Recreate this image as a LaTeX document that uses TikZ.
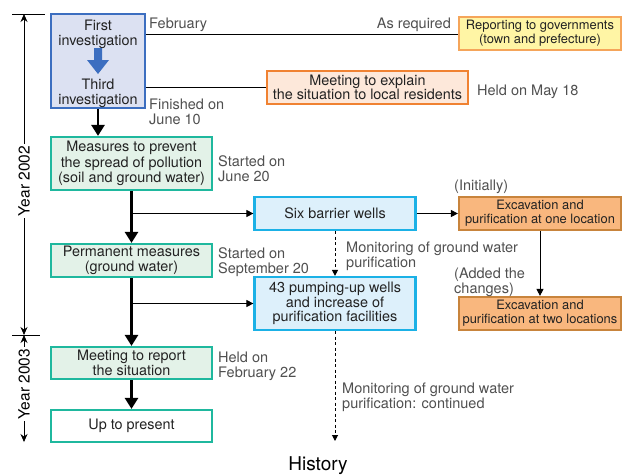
\documentclass[tikz,border=0pt]{standalone}
\usepackage{fontspec}
\setmainfont{TeX Gyre Heros}
\usetikzlibrary{arrows.meta}
\definecolor{bluefill}{HTML}{DCE1F2}
\definecolor{bluedraw}{HTML}{3C6EC0}
\definecolor{yelfill}{HTML}{FFF5A5}
\definecolor{yeldraw}{HTML}{F5A55A}
\definecolor{peachfill}{HTML}{FDE8DA}
\definecolor{peachdraw}{HTML}{F08232}
\definecolor{grnfill}{HTML}{E3F2E8}
\definecolor{grndraw}{HTML}{1FB89E}
\definecolor{cyanfill}{HTML}{DDF0FB}
\definecolor{cyandraw}{HTML}{1BB1E6}
\definecolor{orgfill}{HTML}{F9B77E}
\definecolor{orgdraw}{HTML}{C8843C}
\definecolor{anno}{HTML}{505050}
\definecolor{boxtxt}{HTML}{222222}
\tikzset{
  box/.style={rectangle, line width=2.2pt, inner sep=0pt, align=center, text=boxtxt,
    font=\fontsize{14.4}{14.5}\selectfont},
  smallbox/.style={box, font=\fontsize{12.9}{14}\selectfont},
  note/.style={inner sep=0pt, align=left, text=anno, anchor=north west,
    font=\fontsize{14.5}{15}\selectfont},
  mainarrow/.style={line width=2.6pt, -{Triangle[width=13pt,length=11pt]}},
  thinarrow/.style={line width=0.9pt, -{Triangle[width=7pt,length=7pt]}},
  dasharrow/.style={line width=1pt, dashed, dash pattern=on 3pt off 2.5pt, -{Triangle[width=6pt,length=6pt]}},
  thinline/.style={line width=0.8pt},
  yeararrow/.style={line width=0.8pt, -{Stealth[width=7pt,length=8pt]}},
  yearlbl/.style={rotate=90, fill=white, inner sep=2pt, text=black, font=\fontsize{15.5}{17}\selectfont},
}
\begin{document}
\begin{tikzpicture}[x=1pt,y=-1pt]
\useasboundingbox (0,0) rectangle (622,475);
\fill[white] (0,0) rectangle (622,475);

% Boxes
\node[box, fill=bluefill, draw=bluedraw, minimum width=94pt, minimum height=94pt] (inv) at (98,61) {};
\node[box, anchor=north, font=\fontsize{14.4}{15}\selectfont] (first) at (98,19) {First\\investigation};
\node[box, anchor=north, font=\fontsize{14.4}{15}\selectfont] (third) at (98,77.5) {Third\\investigation};
\fill[bluedraw] (94,48) -- (102,48) -- (102,60) -- (109,60) -- (98,74) -- (87,60) -- (94,60) -- cycle;

\node[smallbox, fill=yelfill, draw=yeldraw, minimum width=162pt, minimum height=33pt] (rep) at (540,33.5) {Reporting to governments\\(town and prefecture)};
\node[box, fill=peachfill, draw=peachdraw, minimum width=201pt, minimum height=33pt, font=\fontsize{14.4}{13.8}\selectfont] (meet) at (367.5,87.5) {Meeting to explain\\the situation to local residents};

\node[box, fill=grnfill, draw=grndraw, minimum width=161pt, minimum height=53pt, font=\fontsize{14.4}{15.5}\selectfont] (meas) at (131.5,163.5) {Measures to prevent\\the spread of pollution\\(soil and ground water)};
\node[box, fill=grnfill, draw=grndraw, minimum width=161pt, minimum height=33pt] (perm) at (131.5,260.5) {Permanent measures\\(ground water)};
\node[box, fill=grnfill, draw=grndraw, minimum width=161pt, minimum height=32pt] (rpt) at (131.5,363) {Meeting to report\\the situation};
\node[box, fill=white, draw=grndraw, minimum width=161pt, minimum height=32pt] (now) at (131.5,426) {Up to present};

\node[box, fill=cyanfill, draw=cyandraw, minimum width=161pt, minimum height=33pt] (six) at (335,213.5) {Six barrier wells};
\node[box, fill=cyanfill, draw=cyandraw, minimum width=161pt, minimum height=53pt] (pump) at (335,303.5) {43 pumping-up wells\\and increase of\\purification facilities};

\node[smallbox, fill=orgfill, draw=orgdraw, minimum width=162pt, minimum height=33pt] (exone) at (540,213.5) {Excavation and\\purification at one location};
\node[smallbox, fill=orgfill, draw=orgdraw, minimum width=162pt, minimum height=33pt] (extwo) at (540,313.5) {Excavation and\\purification at two locations};

% Annotations
\node[note] (feb) at (149,17.5) {February};
\node[note, anchor=north east] (asreq) at (451,17.5) {As required};
\node[note] (fin) at (149,98.5) {Finished on\\June 10};
\node[note] (may) at (477,84.5) {Held on May 18};
\node[note] (jun) at (218,155.5) {Started on\\June 20};
\node[note] (sep) at (218,247.5) {Started on\\September 20};
\node[note] (init) at (454,180) {(Initially)};
\node[note] (added) at (454,268) {(Added the\\changes)};
\node[note] (mon1) at (346,241.5) {Monitoring of ground water\\purification};
\node[note] (feb22) at (218,351.5) {Held on\\February 22};
\node[note] (mon2) at (342,382.5) {Monitoring of ground water\\purification: continued};
\node[font=\fontsize{19}{21}\selectfont, text=black, anchor=base, inner sep=0pt] (hist) at (318,470) {History};

% Connectors
\coordinate (l1) at (inv.east |- 0,34);
\draw[thinline] (l1) -- (rep.west |- l1);
\draw[thinline] (inv.east |- meet.west) -- (meet.west);
\draw[mainarrow] (inv.south) -- (inv.south |- meas.north);
\draw[mainarrow] (meas.south) -- (perm.north);
\coordinate (b1) at (meas.south |- six.west);
\draw[thinarrow] (b1) -- (six.west);
\draw[mainarrow] (perm.south) -- (rpt.north);
\coordinate (b2) at (perm.south |- pump.west);
\draw[thinarrow] (b2) -- (pump.west);
\draw[mainarrow] (rpt.south) -- (now.north);
\draw[thinarrow] (six.east) -- (exone.west);
\draw[thinarrow] (exone.south) -- (extwo.north);
\draw[dasharrow] (six.south) -- (pump.north);
\coordinate (dend) at (335,441);
\draw[dasharrow] (pump.south) -- (dend);

% Year timeline
\coordinate (ytop) at (24,14);
\coordinate (ymid) at (24,335);
\coordinate (ybot) at (24,442);
\draw[thinline] (12,14) -- (45,14);
\draw[thinline] (12,335) -- (40,335);
\node[yearlbl] (y2002) at (24,181) {Year 2002};
\node[yearlbl] (y2003) at (24,384) {Year 2003};
\draw[yeararrow] (y2002.east) -- (ytop);
\draw[yeararrow] (y2002.west) -- (ymid);
\draw[yeararrow] (y2003.east) -- (ymid);
\draw[yeararrow] (y2003.west) -- (ybot);
\end{tikzpicture}
\end{document}
